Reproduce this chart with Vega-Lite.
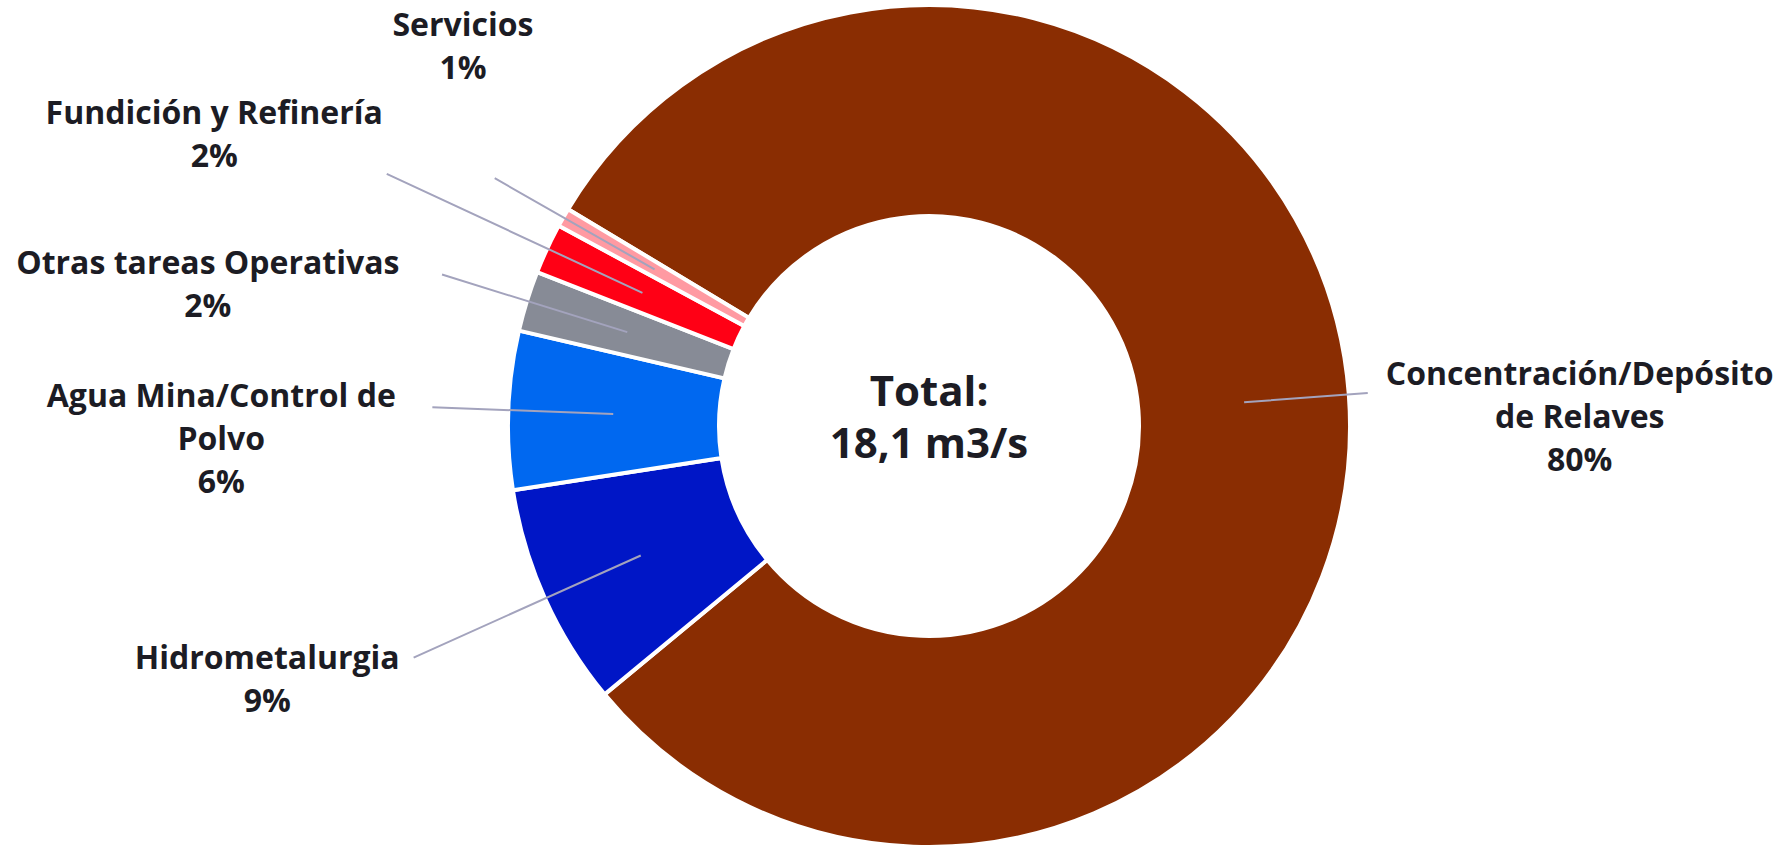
{
  "$schema": "https://vega.github.io/schema/vega-lite/v6.json",
  "width": 1726,
  "height": 844,
  "autosize": {"type": "none"},
  "padding": {"left": 66, "top": 4, "right": 0, "bottom": 0},
  "background": "#ffffff",
  "config": {"view": {"stroke": null}},
  "data": {
    "values": [
      {"categoria": "Concentración/Depósito de Relaves", "valor": 14.55, "orden": 1, "etiqueta": "Concentración/Depósito\nde Relaves\n80%"},
      {"categoria": "Hidrometalurgia", "valor": 1.55, "orden": 2, "etiqueta": "Hidrometalurgia\n9%"},
      {"categoria": "Agua Mina/Control de Polvo", "valor": 1.1, "orden": 3, "etiqueta": "Agua Mina/Control de\nPolvo\n6%"},
      {"categoria": "Otras tareas Operativas", "valor": 0.42, "orden": 4, "etiqueta": "Otras tareas Operativas\n2%"},
      {"categoria": "Fundición y Refinería", "valor": 0.35, "orden": 5, "etiqueta": "Fundición y Refinería\n2%"},
      {"categoria": "Servicios", "valor": 0.13, "orden": 6, "etiqueta": "Servicios\n1%"}
    ]
  },
  "layer": [
    {
      "mark": {"type": "arc", "innerRadius": 210, "outerRadius": 421, "stroke": "#ffffff", "strokeWidth": 4},
      "encoding": {
        "theta": {"field": "valor", "type": "quantitative", "stack": true, "scale": {"range": [-1.02974, 5.25344]}},
        "order": {"field": "orden", "type": "quantitative"},
        "color": {
          "field": "categoria", "type": "nominal", "legend": null,
          "scale": {
            "domain": ["Concentración/Depósito de Relaves", "Hidrometalurgia", "Agua Mina/Control de Polvo", "Otras tareas Operativas", "Fundición y Refinería", "Servicios"],
            "range": ["#8A2D02", "#0016C6", "#0068F0", "#878B96", "#FF0015", "#FF9AA2"]
          }
        }
      }
    },
    {
      "transform": [{"stack": "valor", "groupby": [], "sort": [{"field": "orden", "order": "ascending"}], "as": ["v0", "v1"]}],
      "mark": {"type": "arc", "innerRadius": 316, "outerRadius": 440, "padAngle": 3.1, "thetaOffset": 1, "theta2Offset": -1, "fillOpacity": 0, "stroke": "#A3A3BD", "strokeWidth": 2, "strokeJoin": "bevel"},
      "encoding": {
        "theta": {"field": "v0", "type": "quantitative", "stack": null, "scale": {"range": [-1.02974, 5.25344]}},
        "theta2": {"field": "v1"},
        "strokeOpacity": {"condition": {"test": "datum.categoria === 'Concentración/Depósito de Relaves'", "value": 1}, "value": 0}
      }
    },
    {
      "mark": {"type": "arc", "innerRadius": 316, "outerRadius": 565, "padAngle": 3.1, "fillOpacity": 0, "stroke": "#A3A3BD", "strokeWidth": 2, "strokeJoin": "bevel"},
      "encoding": {
        "theta": {"field": "valor", "type": "quantitative", "stack": true, "scale": {"range": [-1.02974, 5.25344]}},
        "order": {"field": "orden", "type": "quantitative"},
        "strokeOpacity": {"condition": {"test": "datum.categoria === 'Hidrometalurgia'", "value": 1}, "value": 0}
      }
    },
    {
      "mark": {"type": "arc", "innerRadius": 316, "outerRadius": 497, "padAngle": 3.1, "fillOpacity": 0, "stroke": "#A3A3BD", "strokeWidth": 2, "strokeJoin": "bevel"},
      "encoding": {
        "theta": {"field": "valor", "type": "quantitative", "stack": true, "scale": {"range": [-1.02974, 5.25344]}},
        "order": {"field": "orden", "type": "quantitative"},
        "strokeOpacity": {"condition": {"test": "datum.categoria === 'Agua Mina/Control de Polvo'", "value": 1}, "value": 0}
      }
    },
    {
      "mark": {"type": "arc", "innerRadius": 316, "outerRadius": 510, "padAngle": 3.1, "fillOpacity": 0, "stroke": "#A3A3BD", "strokeWidth": 2, "strokeJoin": "bevel"},
      "encoding": {
        "theta": {"field": "valor", "type": "quantitative", "stack": true, "scale": {"range": [-1.02974, 5.25344]}},
        "order": {"field": "orden", "type": "quantitative"},
        "strokeOpacity": {"condition": {"test": "datum.categoria === 'Otras tareas Operativas'", "value": 1}, "value": 0}
      }
    },
    {
      "mark": {"type": "arc", "innerRadius": 316, "outerRadius": 598, "padAngle": 3.1, "fillOpacity": 0, "stroke": "#A3A3BD", "strokeWidth": 2, "strokeJoin": "bevel"},
      "encoding": {
        "theta": {"field": "valor", "type": "quantitative", "stack": true, "scale": {"range": [-1.02974, 5.25344]}},
        "order": {"field": "orden", "type": "quantitative"},
        "strokeOpacity": {"condition": {"test": "datum.categoria === 'Fundición y Refinería'", "value": 1}, "value": 0}
      }
    },
    {
      "mark": {"type": "arc", "innerRadius": 316, "outerRadius": 500, "padAngle": 3.1, "fillOpacity": 0, "stroke": "#A3A3BD", "strokeWidth": 2, "strokeJoin": "bevel"},
      "encoding": {
        "theta": {"field": "valor", "type": "quantitative", "stack": true, "scale": {"range": [-1.02974, 5.25344]}},
        "order": {"field": "orden", "type": "quantitative"},
        "strokeOpacity": {"condition": {"test": "datum.categoria === 'Servicios'", "value": 1}, "value": 0}
      }
    },
    {
      "mark": {"type": "text", "font": "Open Sans", "fontWeight": "bold", "fontSize": 32, "lineHeight": 43, "lineBreak": "\n", "align": "center", "baseline": "alphabetic", "color": "#1C1C24", "radius": 652, "thetaOffset": 0.0122},
      "encoding": {
        "theta": {"field": "valor", "type": "quantitative", "stack": true, "scale": {"range": [-1.02974, 5.25344]}},
        "order": {"field": "orden", "type": "quantitative"},
        "text": {"condition": {"test": "datum.categoria === 'Concentración/Depósito de Relaves'", "field": "etiqueta"}, "value": ""}
      }
    },
    {
      "mark": {"type": "text", "font": "Open Sans", "fontWeight": "bold", "fontSize": 32, "lineHeight": 43, "lineBreak": "\n", "align": "center", "baseline": "alphabetic", "color": "#1C1C24", "radius": 705, "thetaOffset": 0.0703},
      "encoding": {
        "theta": {"field": "valor", "type": "quantitative", "stack": true, "scale": {"range": [-1.02974, 5.25344]}},
        "order": {"field": "orden", "type": "quantitative"},
        "text": {"condition": {"test": "datum.categoria === 'Hidrometalurgia'", "field": "etiqueta"}, "value": ""}
      }
    },
    {
      "mark": {"type": "text", "font": "Open Sans", "fontWeight": "bold", "fontSize": 32, "lineHeight": 43, "lineBreak": "\n", "align": "center", "baseline": "alphabetic", "color": "#1C1C24", "radius": 708, "thetaOffset": -0.0105},
      "encoding": {
        "theta": {"field": "valor", "type": "quantitative", "stack": true, "scale": {"range": [-1.02974, 5.25344]}},
        "order": {"field": "orden", "type": "quantitative"},
        "text": {"condition": {"test": "datum.categoria === 'Agua Mina/Control de Polvo'", "field": "etiqueta"}, "value": ""}
      }
    },
    {
      "mark": {"type": "text", "font": "Open Sans", "fontWeight": "bold", "fontSize": 32, "lineHeight": 43, "lineBreak": "\n", "align": "center", "baseline": "alphabetic", "color": "#1C1C24", "radius": 737, "thetaOffset": -0.0939},
      "encoding": {
        "theta": {"field": "valor", "type": "quantitative", "stack": true, "scale": {"range": [-1.02974, 5.25344]}},
        "order": {"field": "orden", "type": "quantitative"},
        "text": {"condition": {"test": "datum.categoria === 'Otras tareas Operativas'", "field": "etiqueta"}, "value": ""}
      }
    },
    {
      "mark": {"type": "text", "font": "Open Sans", "fontWeight": "bold", "fontSize": 32, "lineHeight": 43, "lineBreak": "\n", "align": "center", "baseline": "alphabetic", "color": "#1C1C24", "radius": 776, "thetaOffset": -0.0353},
      "encoding": {
        "theta": {"field": "valor", "type": "quantitative", "stack": true, "scale": {"range": [-1.02974, 5.25344]}},
        "order": {"field": "orden", "type": "quantitative"},
        "text": {"condition": {"test": "datum.categoria === 'Fundición y Refinería'", "field": "etiqueta"}, "value": ""}
      }
    },
    {
      "mark": {"type": "text", "font": "Open Sans", "fontWeight": "bold", "fontSize": 32, "lineHeight": 43, "lineBreak": "\n", "align": "center", "baseline": "alphabetic", "color": "#1C1C24", "radius": 608, "thetaOffset": 0.1789},
      "encoding": {
        "theta": {"field": "valor", "type": "quantitative", "stack": true, "scale": {"range": [-1.02974, 5.25344]}},
        "order": {"field": "orden", "type": "quantitative"},
        "text": {"condition": {"test": "datum.categoria === 'Servicios'", "field": "etiqueta"}, "value": ""}
      }
    },
    {
      "data": {"values": [{"texto": "Total:\n18,1 m3/s"}]},
      "mark": {"type": "text", "font": "Open Sans", "fontWeight": "bold", "fontSize": 42, "lineHeight": 52, "lineBreak": "\n", "align": "center", "baseline": "middle", "dy": -33, "color": "#1C1C24"},
      "encoding": {
        "text": {"field": "texto", "type": "nominal"}
      }
    }
  ]
}
